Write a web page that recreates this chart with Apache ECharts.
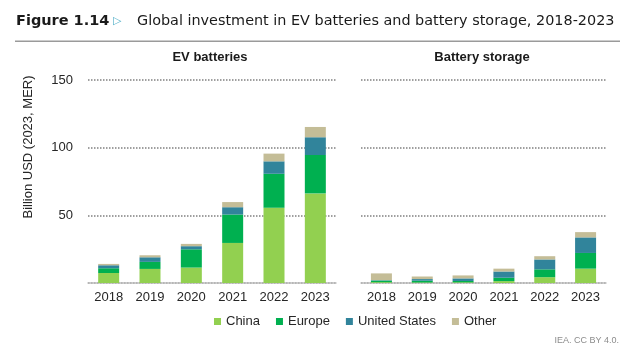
<!DOCTYPE html>
<html>
<head>
<meta charset="utf-8">
<script src="https://cdn.jsdelivr.net/npm/echarts@6/dist/echarts.min.js"></script>
<style>
html,body{margin:0;padding:0;background:#fff;}
#chart{width:630px;height:353px;}
</style>
</head>
<body>
<div id="chart"></div>
<script>
const years = ['2018','2019','2020','2021','2022','2023'];
const yTicks = [0, 50, 100, 150];
// EV batteries (billion USD)
const evChina  = [7.4, 10.4, 11.4, 29.6, 55.6, 66.2];
const evEurope = [3.5, 5.2, 13.5, 21.0, 25.1, 28.4];
const evUS     = [2.2, 3.4, 2.3, 5.4, 9.2, 13.1];
const evOther  = [1.0, 1.5, 1.7, 3.8, 5.7, 7.6];
// Battery storage (billion USD)
const bsChina  = [0.6, 0.4, 0.5, 1.4, 4.3, 10.6];
const bsEurope = [1.2, 1.3, 1.0, 2.5, 5.8, 11.6];
const bsUS     = [0.3, 1.2, 1.9, 4.6, 7.3, 11.5];
const bsOther  = [5.0, 1.9, 2.2, 2.1, 2.4, 3.9];

const seriesNames = ['China','Europe','United States','Other'];
const colors = ['#92D050','#00B050','#31849B','#C4BD97'];

const font = 'Liberation Sans, Arial, sans-serif';
const tfont = 'DejaVu Sans, sans-serif';
const chart = echarts.init(document.getElementById('chart'), null, {renderer:'canvas'});

function xAxis(gi){
  return {
    type:'category', gridIndex:gi, data:years,
    axisLine:{show:true, lineStyle:{color:'#bfbfbf', width:1.5}},
    axisTick:{show:false},
    axisLabel:{color:'#262626', fontSize:13, fontFamily:font, margin:8}
  };
}
function yAxis(gi, showLabels){
  return {
    type:'value', gridIndex:gi, min:yTicks[0], max:yTicks[yTicks.length-1], interval:50,
    axisLine:{show:false}, axisTick:{show:false},
    axisLabel:{show:showLabels, showMinLabel:false, color:'#262626', fontSize:13, fontFamily:font, margin:15},
    splitLine:{show:true, lineStyle:{color:'#808080', type:[1.5,1.5], width:1.5}}
  };
}
const evData = [evChina, evEurope, evUS, evOther];
const bsData = [bsChina, bsEurope, bsUS, bsOther];
const series = [];
seriesNames.forEach((n,i)=>{
  series.push({name:n, type:'bar', stack:'ev', xAxisIndex:0, yAxisIndex:0, data:evData[i], barWidth:21, itemStyle:{color:colors[i]}});
});
seriesNames.forEach((n,i)=>{
  series.push({name:n, type:'bar', stack:'bs', xAxisIndex:1, yAxisIndex:1, data:bsData[i], barWidth:21, itemStyle:{color:colors[i]}});
});

chart.setOption({
  animation:false,
  backgroundColor:'#fff',
  grid:[
    {left:88, top:80, width:248, height:203},
    {left:361, top:80, width:245, height:203}
  ],
  xAxis:[xAxis(0), xAxis(1)],
  yAxis:[yAxis(0,true), yAxis(1,false)],
  legend:{
    data:seriesNames, left:209, top:310, itemWidth:7, itemHeight:7, itemGap:16, icon:'rect',
    textStyle:{color:'#262626', fontSize:13, fontFamily:font}
  },
  series:series,
  graphic:[
    {type:'text', x:16, y:21, style:{text:'Figure 1.14', fontWeight:'bold', fontSize:14.5, fontFamily:tfont, fill:'#1a1a1a', verticalAlign:'middle'}},
    {type:'text', x:113, y:21, style:{text:'▷', fontSize:11, fontFamily:tfont, fill:'#4bacc6', verticalAlign:'middle'}},
    {type:'text', x:137, y:21, style:{text:'Global investment in EV batteries and battery storage, 2018-2023', fontSize:14.4, fontFamily:tfont, fill:'#1a1a1a', verticalAlign:'middle'}},
    {type:'rect', shape:{x:15, y:40.5, width:605, height:1.5}, style:{fill:'#9a9a9a'}},
    {type:'text', x:210, y:57, style:{text:'EV batteries', fontWeight:'bold', fontSize:13, fontFamily:font, fill:'#1a1a1a', align:'center', verticalAlign:'middle'}},
    {type:'text', x:482, y:57, style:{text:'Battery storage', fontWeight:'bold', fontSize:13, fontFamily:font, fill:'#1a1a1a', align:'center', verticalAlign:'middle'}},
    {type:'text', x:28, y:147, rotation:Math.PI/2, style:{text:'Billion USD (2023, MER)', fontSize:13, fontFamily:font, fill:'#262626', align:'center', verticalAlign:'middle'}},
    {type:'text', right:11, top:336, style:{text:'IEA. CC BY 4.0.', fontSize:9, fontFamily:font, fill:'#8c8c8c'}}
  ]
});
</script>
</body>
</html>
